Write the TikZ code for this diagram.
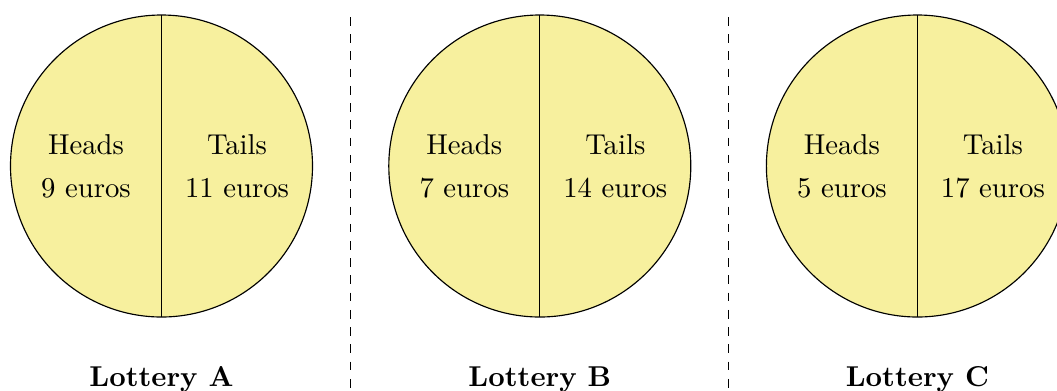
\documentclass[tikz,border=0pt]{standalone}
\begin{document}
\begin{tikzpicture}[x=0.01224cm,y=-0.01224cm,
  coin/.style={draw=black,line width=0.4pt},
  half/.style={draw=black,line width=0.4pt},
  sep/.style={draw=black,dashed,line width=0.4pt},
  lbl/.style={inner sep=0pt,font=\normalsize},
  ttl/.style={inner sep=0pt,font=\bfseries}]
\useasboundingbox (0,0) rectangle (1057,390);
\definecolor{coinyellow}{RGB}{247,240,158}
\foreach \cx/\nm/\h/\t in {161.5/A/9/11, 539.8/B/7/14, 917.4/C/5/17}{
  \fill[coinyellow] (\cx,166) circle (151);
  \draw[coin] (\cx,166) circle (151);
  \coordinate (top\nm) at (\cx,15);
  \coordinate (bot\nm) at (\cx,317);
  \draw[half] (top\nm) -- (bot\nm);
  \node[lbl] (h\nm) at (\cx-75.5,145) {Heads};
  \node[lbl] (hv\nm) at (\cx-75.5,188) {\h\ euros};
  \node[lbl] (t\nm) at (\cx+75.5,145) {Tails};
  \node[lbl] (tv\nm) at (\cx+75.5,188) {\t\ euros};
  \node[ttl,anchor=base] (lot\nm) at (\cx,386) {Lottery \nm};
}
\coordinate (s1t) at (350.6,17);
\coordinate (s1b) at (350.6,392);
\coordinate (s2t) at (728.9,17);
\coordinate (s2b) at (728.9,392);
\draw[sep] (s1t) -- (s1b);
\draw[sep] (s2t) -- (s2b);
\end{tikzpicture}
\end{document}
